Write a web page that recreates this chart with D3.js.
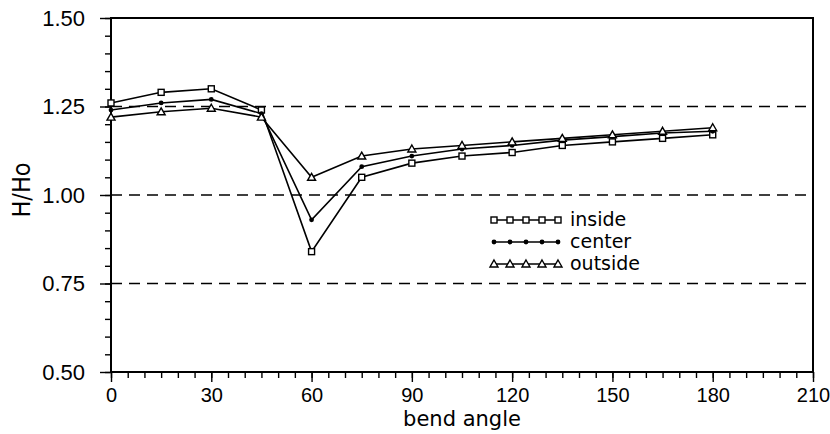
<!DOCTYPE html>
<html>
<head>
<meta charset="utf-8">
<script src="https://cdn.jsdelivr.net/npm/d3@7"></script>
<style>
  body { margin: 0; background: #fff; }
  svg text { font-family: "DejaVu Sans", sans-serif; fill: #000; }
</style>
</head>
<body>
<script>
// bend angle values (degrees)
const angles = [0, 15, 30, 45, 60, 75, 90, 105, 120, 135, 150, 165, 180];

// H/Ho for each position across the channel
const inside  = [1.26, 1.29, 1.30, 1.24, 0.84, 1.05, 1.09, 1.11, 1.12, 1.14, 1.15, 1.16, 1.17];
const center  = [1.24, 1.26, 1.27, 1.23, 0.93, 1.08, 1.11, 1.13, 1.14, 1.155, 1.165, 1.175, 1.18];
const outside = [1.22, 1.235, 1.245, 1.22, 1.05, 1.11, 1.13, 1.14, 1.15, 1.16, 1.17, 1.18, 1.19];

const xTicks = [0, 30, 60, 90, 120, 150, 180, 210];
const yTicks = [0.50, 0.75, 1.00, 1.25, 1.50];
const refLines = [0.75, 1.00, 1.25];

const width = 830, height = 434;
const margin = { top: 18, right: 17, bottom: 62, left: 111 };

const svg = d3.select("body").append("svg")
  .attr("width", width)
  .attr("height", height);

const xScale = d3.scaleLinear().domain([0, 210]).range([margin.left, width - margin.right]);
const yScale = d3.scaleLinear().domain([0.5, 1.5]).range([height - margin.bottom, margin.top]);

// dashed reference lines
svg.selectAll(".ref")
  .data(refLines)
  .enter().append("line")
  .attr("x1", xScale(0)).attr("x2", xScale(210))
  .attr("y1", d => yScale(d)).attr("y2", d => yScale(d))
  .attr("stroke", "#000").attr("stroke-width", 1.3)
  .attr("stroke-dasharray", "11,7");

// minor ticks
const xMinor = d3.axisBottom(xScale).tickValues(d3.range(0, 211, 5)).tickSize(6).tickFormat("");
const yMinor = d3.axisLeft(yScale).tickValues(d3.range(0.5, 1.501, 0.05)).tickSize(6).tickFormat("");

svg.append("g").attr("transform", `translate(0,${yScale(0.5)})`).call(xMinor);
svg.append("g").attr("transform", `translate(${xScale(0)},0)`).call(yMinor);

// major ticks with labels
const xAxis = d3.axisBottom(xScale).tickValues(xTicks).tickSize(10).tickPadding(6);
const yAxis = d3.axisLeft(yScale).tickValues(yTicks).tickSize(11).tickPadding(15).tickFormat(d3.format(".2f"));

const gx = svg.append("g").attr("transform", `translate(0,${yScale(0.5)})`).call(xAxis);
const gy = svg.append("g").attr("transform", `translate(${xScale(0)},0)`).call(yAxis);

svg.selectAll(".domain").remove();
svg.selectAll(".tick line").attr("stroke", "#000").attr("stroke-width", 1.4);
gx.selectAll("text").attr("font-size", 20).style("font-family", "'Liberation Sans', Arial, sans-serif");
gy.selectAll("text").attr("font-size", 22).style("font-family", "'Liberation Sans', Arial, sans-serif");

// frame
svg.append("rect")
  .attr("x", xScale(0)).attr("y", yScale(1.5))
  .attr("width", xScale(210) - xScale(0))
  .attr("height", yScale(0.5) - yScale(1.5))
  .attr("fill", "none").attr("stroke", "#000").attr("stroke-width", 2);

// axis titles
svg.append("text")
  .attr("x", (xScale(0) + xScale(210)) / 2).attr("y", 426)
  .attr("text-anchor", "middle").attr("font-size", 21)
  .text("bend angle");

svg.append("text")
  .attr("transform", `translate(30,190) rotate(-90)`)
  .attr("text-anchor", "middle").attr("font-size", 25)
  .style("font-family", "'Liberation Sans Narrow', 'DejaVu Sans Condensed', sans-serif")
  .text("H/Ho");

const series = [
  { name: "inside", values: inside, marker: "square" },
  { name: "center", values: center, marker: "dot" },
  { name: "outside", values: outside, marker: "triangle" }
];

const line = d3.line().x(d => xScale(d[0])).y(d => yScale(d[1]));

function drawMarker(g, type, x, y) {
  if (type === "square") {
    g.append("rect").attr("x", x - 3).attr("y", y - 3).attr("width", 6).attr("height", 6)
      .attr("fill", "#fff").attr("stroke", "#000").attr("stroke-width", 1.4);
  } else if (type === "dot") {
    g.append("circle").attr("cx", x).attr("cy", y).attr("r", 2.4).attr("fill", "#000");
  } else {
    g.append("path")
      .attr("d", `M${x},${y - 4}L${x + 4},${y + 3}L${x - 4},${y + 3}Z`)
      .attr("fill", "#fff").attr("stroke", "#000").attr("stroke-width", 1.4);
  }
}

series.forEach(s => {
  const pts = angles.map((a, i) => [a, s.values[i]]);
  const g = svg.append("g");
  g.append("path").datum(pts).attr("d", line)
    .attr("fill", "none").attr("stroke", "#000").attr("stroke-width", 1.6);
  pts.forEach(p => drawMarker(g, s.marker, xScale(p[0]), yScale(p[1])));
});

// legend
const legend = svg.append("g").attr("transform", "translate(494,220)");
series.forEach((s, i) => {
  const y = i * 22;
  const g = legend.append("g");
  g.append("line").attr("x1", 0).attr("x2", 64).attr("y1", y).attr("y2", y)
    .attr("stroke", "#000").attr("stroke-width", 1.6);
  for (let k = 0; k < 5; k++) drawMarker(g, s.marker, k * 16, y);
  legend.append("text").attr("x", 76).attr("y", y + 6).attr("font-size", 19).text(s.name);
});
</script>
</body>
</html>
